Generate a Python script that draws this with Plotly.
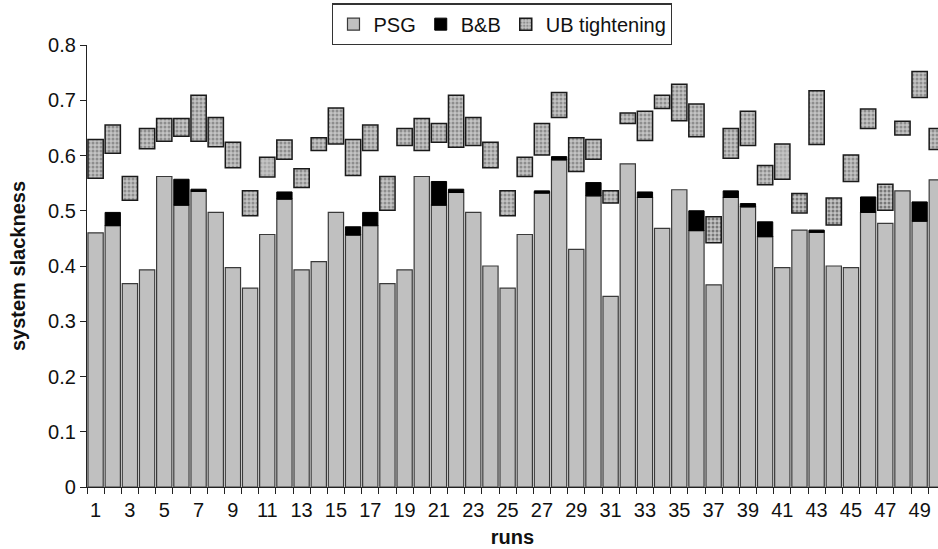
import plotly.graph_objects as go

runs = list(range(1, 51))

psg = [0.460, 0.473, 0.368, 0.393, 0.562, 0.510, 0.535, 0.497, 0.397, 0.360,
       0.457, 0.521, 0.393, 0.408, 0.497, 0.456, 0.473, 0.368, 0.393, 0.562,
       0.510, 0.533, 0.497, 0.400, 0.360, 0.457, 0.532, 0.592, 0.430, 0.527,
       0.345, 0.585, 0.524, 0.468, 0.538, 0.464, 0.366, 0.524, 0.507, 0.453,
       0.397, 0.465, 0.461, 0.400, 0.397, 0.497, 0.477, 0.536, 0.481, 0.556]

# top of the B&B segment (None = no B&B improvement)
bnb_top = [None, 0.497, None, None, None, 0.557, 0.539, None, None, None,
           None, 0.534, None, None, None, 0.471, 0.497, None, None, None,
           0.553, 0.539, None, None, None, None, 0.536, 0.598, None, 0.551,
           None, None, 0.534, None, None, 0.500, None, 0.536, 0.513, 0.480,
           None, None, 0.465, None, None, 0.525, None, None, 0.516, None]

ub_lo = [0.559, 0.604, 0.519, 0.612, 0.626, 0.635, 0.626, 0.616, 0.578, 0.491,
         0.561, 0.593, 0.542, 0.609, 0.621, 0.564, 0.609, 0.501, 0.618, 0.609,
         0.624, 0.615, 0.618, 0.578, 0.491, 0.562, 0.601, 0.669, 0.571, 0.593,
         0.514, 0.658, 0.627, 0.685, 0.663, 0.634, 0.442, 0.595, 0.618, 0.547,
         0.557, 0.496, 0.620, 0.474, 0.553, 0.649, 0.501, 0.637, 0.705, 0.611]

ub_hi = [0.629, 0.655, 0.562, 0.649, 0.667, 0.667, 0.709, 0.669, 0.624, 0.536,
         0.597, 0.628, 0.576, 0.632, 0.686, 0.629, 0.655, 0.562, 0.649, 0.667,
         0.658, 0.709, 0.669, 0.624, 0.536, 0.597, 0.658, 0.714, 0.632, 0.629,
         0.536, 0.677, 0.680, 0.709, 0.729, 0.693, 0.489, 0.649, 0.680, 0.582,
         0.621, 0.531, 0.717, 0.523, 0.601, 0.684, 0.548, 0.662, 0.752, 0.649]

x_ticks = list(range(1, 50, 2))
y_ticks = [0, 0.1, 0.2, 0.3, 0.4, 0.5, 0.6, 0.7, 0.8]
y_tick_text = ["0", "0.1", "0.2", "0.3", "0.4", "0.5", "0.6", "0.7", "0.8"]

bnb_h = [None if t is None else t - p for t, p in zip(bnb_top, psg)]
bnb_base = [p for p in psg]
ub_h = [h - l for h, l in zip(ub_hi, ub_lo)]

# darker / lighter hatching on a few UB bars (style only)
dark_runs = {37, 42, 44, 47}
light_runs = {11, 41}
ub_fg = ["#2a2a2a" if r in dark_runs else ("#8a8a8a" if r in light_runs else "#555555") for r in runs]

FONT = "Liberation Sans, Arial, sans-serif"

fig = go.Figure()
fig.add_trace(go.Bar(
    x=runs, y=psg, name="PSG",
    marker=dict(color="#c0c0c0", line=dict(color="#3a3a3a", width=1.2)),
))
fig.add_trace(go.Bar(
    x=runs, y=bnb_h, base=bnb_base, name="B&B",
    marker=dict(color="#000000", line=dict(color="#000000", width=1)),
))
fig.add_trace(go.Bar(
    x=runs, y=ub_h, base=ub_lo, name="UB tightening",
    marker=dict(color="#b8b8b8",
                line=dict(color="#1a1a1a", width=1.5),
                pattern=dict(shape=".", fgcolor=ub_fg, bgcolor="#c4c4c4",
                             size=4, solidity=0.45, fillmode="overlay")),
))

fig.update_layout(
    width=938, height=549,
    margin=dict(l=87, r=0, t=45, b=62),
    barmode="overlay", bargap=0.11,
    plot_bgcolor="white", paper_bgcolor="white",
    font=dict(family=FONT, size=20, color="#111111"),
    showlegend=True,
    legend=dict(orientation="h", x=0.488, y=1.094, xanchor="center", yanchor="top",
                bordercolor="#333333", borderwidth=1.2, bgcolor="white",
                font=dict(size=20, family=FONT), traceorder="normal",
                itemwidth=30, tracegroupgap=0),
)
fig.update_xaxes(
    range=[0.5, 50.07], tickmode="array", tickvals=x_ticks,
    ticktext=[str(v) for v in x_ticks], ticks="",
    showline=True, linecolor="#222222", linewidth=1.2, showgrid=False,
    zeroline=False, tickfont=dict(size=20), ticklabelstandoff=5,
    minor=dict(tickmode="linear", tick0=0.5, dtick=1, ticks="outside",
               ticklen=6, tickcolor="#222222", tickwidth=1.2, showgrid=False),
    title=dict(text="<b>runs</b>", font=dict(size=20), standoff=9),
)
fig.update_yaxes(
    range=[0, 0.8], tickmode="array", tickvals=y_ticks, ticktext=y_tick_text,
    ticks="outside", ticklen=6, tickcolor="#222222", tickwidth=1.2,
    showline=True, linecolor="#222222", linewidth=1.2, showgrid=False,
    zeroline=False, tickfont=dict(size=20),
    title=dict(text="<b>system slackness</b>", font=dict(size=20), standoff=17),
)

fig.write_html("out.html")
